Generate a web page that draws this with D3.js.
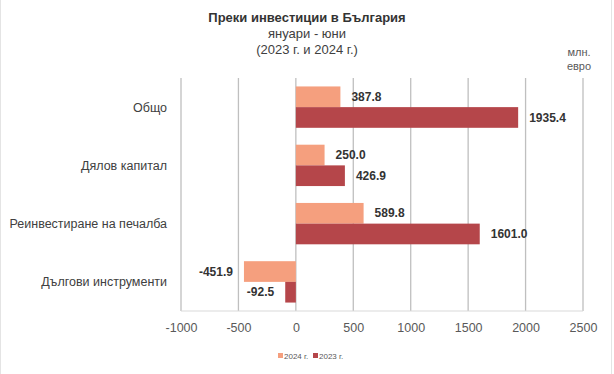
<!DOCTYPE html>
<html>
<head>
<meta charset="utf-8">
<script src="https://cdn.jsdelivr.net/npm/d3@7"></script>
<style>
  body { margin: 0; background: #fff; }
  svg { font-family: "Liberation Sans", Arial, sans-serif; }
</style>
</head>
<body>
<div id="chart"></div>
<script>
// data
const categories = ["Общо", "Дялов капитал", "Реинвестиране на печалба", "Дългови инструменти"];
const values2024 = [387.8, 250.0, 589.8, -451.9];
const values2023 = [1935.4, 426.9, 1601.0, -92.5];
const seriesNames = ["2024 г.", "2023 г."];
const xTicks = [-1000, -500, 0, 500, 1000, 1500, 2000, 2500];
const colors = ["#f59f7e", "#b5464a"];

const W = 614, H = 374;
const margin = {top: 78, right: 31, bottom: 63, left: 181};
const width = W - margin.left - margin.right,
      height = H - margin.top - margin.bottom;

// plain hyphen instead of the unicode minus d3 puts in
const fmtVal = v => v.toFixed(1);
const fmtTick = v => String(v);

const svg = d3.select("#chart").append("svg")
    .attr("width", W)
    .attr("height", H);

// faint outer border
svg.append("rect")
    .attr("x", 0.5).attr("y", -2)
    .attr("width", W - 3).attr("height", H + 4)
    .attr("fill", "none")
    .attr("stroke", "#e4e4e4");

const g = svg.append("g")
    .attr("transform", "translate(" + margin.left + "," + margin.top + ")");

const x = d3.scaleLinear()
    .domain([-1000, 2500])
    .range([0, width]);

const y = d3.scaleBand()
    .domain(categories)
    .range([0, height])
    .paddingInner(0.29)
    .paddingOuter(0.145);

const inner = d3.scaleBand()
    .domain(seriesNames)
    .range([0, y.bandwidth()]);

// gridlines
g.append("g")
    .selectAll("line")
    .data(xTicks)
    .enter().append("line")
    .attr("x1", d => x(d)).attr("x2", d => x(d))
    .attr("y1", 0).attr("y2", height)
    .attr("stroke", "#bfbfbf")
    .attr("stroke-width", 1.3);

// bottom line of the plot area
g.append("line")
    .attr("x1", x(-1000)).attr("x2", x(2500))
    .attr("y1", height).attr("y2", height)
    .attr("stroke", "#d9d9d9");

const rows = categories.map((c, i) => ({cat: c, vals: [values2024[i], values2023[i]]}));

const grp = g.selectAll(".cat")
    .data(rows)
    .enter().append("g")
    .attr("class", "cat")
    .attr("transform", d => "translate(0," + y(d.cat) + ")");

grp.selectAll("rect")
    .data(d => d.vals.map((v, j) => ({v: v, s: seriesNames[j], j: j})))
    .enter().append("rect")
    .attr("x", d => x(Math.min(0, d.v)))
    .attr("y", d => inner(d.s))
    .attr("width", d => Math.abs(x(d.v) - x(0)))
    .attr("height", inner.bandwidth())
    .attr("fill", d => colors[d.j]);

grp.selectAll("text.val")
    .data(d => d.vals.map((v, j) => ({v: v, s: seriesNames[j]})))
    .enter().append("text")
    .attr("class", "val")
    .attr("x", d => d.v >= 0 ? x(d.v) + 11 : x(d.v) - 11)
    .attr("y", d => inner(d.s) + inner.bandwidth() / 2)
    .attr("dy", "0.35em")
    .attr("text-anchor", d => d.v >= 0 ? "start" : "end")
    .attr("font-size", 12)
    .attr("font-weight", "bold")
    .attr("fill", "#333")
    .text(d => fmtVal(d.v));

// category labels
g.selectAll(".catlabel")
    .data(categories)
    .enter().append("text")
    .attr("class", "catlabel")
    .attr("x", -14)
    .attr("y", d => y(d) + y.bandwidth() / 2)
    .attr("dy", "0.35em")
    .attr("text-anchor", "end")
    .attr("font-size", 12.5)
    .attr("fill", "#404040")
    .text(d => d);

// x axis labels
const xAxis = g.append("g")
    .attr("transform", "translate(0," + height + ")")
    .call(d3.axisBottom(x).tickValues(xTicks).tickFormat(fmtTick).tickSize(0).tickPadding(12));
xAxis.select(".domain").remove();
xAxis.selectAll("text")
    .attr("font-size", 12.5)
    .attr("font-family", "Liberation Sans, Arial, sans-serif")
    .attr("fill", "#595959");

// title
const title = svg.append("text")
    .attr("text-anchor", "middle")
    .attr("x", 307)
    .attr("fill", "#404040")
    .attr("font-size", 13);
title.append("tspan").attr("x", 307).attr("y", 22).attr("font-weight", "bold").attr("fill", "#333").text("Преки инвестиции в България");
title.append("tspan").attr("x", 307).attr("y", 38).text("януари - юни");
title.append("tspan").attr("x", 307).attr("y", 54).text("(2023 г. и 2024 г.)");

// unit
const unit = svg.append("text")
    .attr("text-anchor", "middle")
    .attr("fill", "#595959")
    .attr("font-size", 11);
unit.append("tspan").attr("x", 579).attr("y", 56).text("млн.");
unit.append("tspan").attr("x", 579).attr("y", 70).text("евро");

// legend
const legend = svg.append("g")
    .attr("transform", "translate(278,352)");
const li = legend.selectAll("g")
    .data(seriesNames)
    .enter().append("g")
    .attr("transform", (d, i) => "translate(" + (i * 35) + ",0)");
li.append("rect")
    .attr("width", 5).attr("height", 5)
    .attr("y", 1)
    .attr("fill", (d, i) => colors[i]);
li.append("text")
    .attr("x", 6).attr("y", 6.5)
    .attr("font-size", 8)
    .attr("fill", "#595959")
    .text(d => d);
</script>
</body>
</html>
